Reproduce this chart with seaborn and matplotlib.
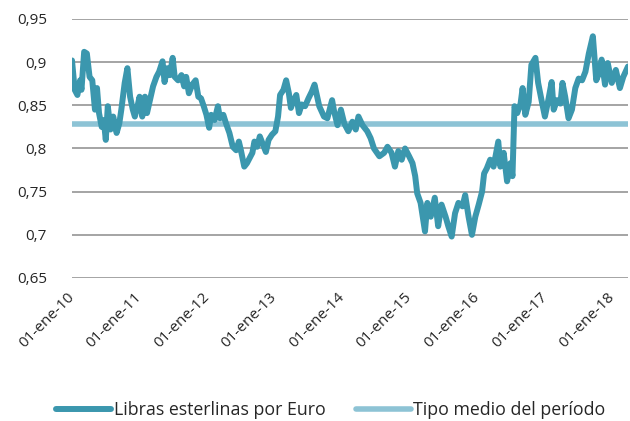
import pandas as pd
import numpy as np
import matplotlib
matplotlib.use("Agg")
import matplotlib.pyplot as plt
import seaborn as sns

# Libras esterlinas por euro (año decimal, tipo)
year_frac = [
    2010.00, 2010.04, 2010.08, 2010.12, 2010.14, 2010.18, 2010.22, 2010.26, 2010.30, 2010.34,
    2010.37, 2010.40, 2010.44, 2010.47, 2010.50, 2010.53, 2010.57, 2010.61, 2010.66, 2010.70,
    2010.73, 2010.78, 2010.82, 2010.86, 2010.90, 2010.93, 2010.97, 2011.00, 2011.04, 2011.08,
    2011.11, 2011.16, 2011.20, 2011.25, 2011.29, 2011.34, 2011.37, 2011.41, 2011.45, 2011.49,
    2011.52, 2011.57, 2011.62, 2011.66, 2011.69, 2011.73, 2011.78, 2011.83, 2011.87, 2011.91,
    2011.95, 2011.99, 2012.03, 2012.06, 2012.11, 2012.16, 2012.19, 2012.24, 2012.28, 2012.33,
    2012.38, 2012.43, 2012.47, 2012.50, 2012.55, 2012.59, 2012.63, 2012.67, 2012.70, 2012.74,
    2012.78, 2012.82, 2012.87, 2012.91, 2012.96, 2013.01, 2013.05, 2013.08, 2013.13, 2013.17,
    2013.21, 2013.24, 2013.28, 2013.32, 2013.36, 2013.40, 2013.45, 2013.50, 2013.55, 2013.59,
    2013.66, 2013.73, 2013.78, 2013.85, 2013.88, 2013.93, 2013.98, 2014.03, 2014.09, 2014.15,
    2014.20, 2014.24, 2014.30, 2014.37, 2014.42, 2014.47, 2014.55, 2014.62, 2014.67, 2014.73,
    2014.78, 2014.83, 2014.88, 2014.93, 2014.99, 2015.04, 2015.08, 2015.11, 2015.16, 2015.225,
    2015.26, 2015.31, 2015.37, 2015.42, 2015.47, 2015.53, 2015.57, 2015.62, 2015.67, 2015.72,
    2015.78, 2015.82, 2015.87, 2015.92, 2015.97, 2016.02, 2016.07, 2016.10, 2016.14, 2016.19,
    2016.24, 2016.31, 2016.34, 2016.39, 2016.44, 2016.49, 2016.52, 2016.55, 2016.59, 2016.64,
    2016.67, 2016.71, 2016.76, 2016.80, 2016.86, 2016.90, 2016.95, 2017.00, 2017.05, 2017.10,
    2017.13, 2017.18, 2017.23, 2017.26, 2017.30, 2017.35, 2017.40, 2017.45, 2017.50, 2017.55,
    2017.60, 2017.65, 2017.71, 2017.76, 2017.80, 2017.84, 2017.89, 2017.93, 2017.99, 2018.05,
    2018.11, 2018.16, 2018.23,
]
gbp_per_eur = [
    0.902, 0.868, 0.862, 0.879, 0.868, 0.912, 0.910, 0.883, 0.879, 0.845,
    0.870, 0.841, 0.825, 0.833, 0.810, 0.849, 0.822, 0.837, 0.818, 0.829,
    0.845, 0.876, 0.893, 0.860, 0.845, 0.837, 0.849, 0.860, 0.837, 0.860,
    0.841, 0.858, 0.872, 0.883, 0.889, 0.901, 0.877, 0.893, 0.885, 0.905,
    0.883, 0.879, 0.885, 0.872, 0.883, 0.864, 0.874, 0.879, 0.860, 0.858,
    0.849, 0.839, 0.824, 0.839, 0.833, 0.849, 0.835, 0.839, 0.829, 0.818,
    0.802, 0.798, 0.808, 0.798, 0.779, 0.783, 0.789, 0.795, 0.808, 0.802,
    0.814, 0.806, 0.796, 0.810, 0.816, 0.820, 0.837, 0.862, 0.868, 0.879,
    0.864, 0.847, 0.856, 0.862, 0.841, 0.851, 0.849, 0.858, 0.866, 0.874,
    0.849, 0.837, 0.835, 0.856, 0.843, 0.827, 0.845, 0.829, 0.820, 0.831,
    0.822, 0.837, 0.827, 0.820, 0.812, 0.800, 0.791, 0.795, 0.802, 0.795,
    0.779, 0.797, 0.787, 0.800, 0.791, 0.783, 0.768, 0.748, 0.737, 0.704,
    0.737, 0.721, 0.743, 0.710, 0.735, 0.721, 0.710, 0.698, 0.725, 0.737,
    0.733, 0.746, 0.721, 0.700, 0.721, 0.735, 0.750, 0.771, 0.777, 0.787,
    0.779, 0.808, 0.779, 0.795, 0.762, 0.783, 0.768, 0.849, 0.841, 0.852,
    0.870, 0.839, 0.854, 0.897, 0.905, 0.876, 0.856, 0.837, 0.856, 0.877,
    0.845, 0.856, 0.852, 0.876, 0.860, 0.835, 0.845, 0.870, 0.881, 0.879,
    0.889, 0.910, 0.930, 0.879, 0.887, 0.903, 0.874, 0.899, 0.876, 0.891,
    0.870, 0.883, 0.895,
]
mean_rate = 0.828
tick_years = [2010, 2011, 2012, 2013, 2014, 2015, 2016, 2017, 2018]
y_ticks = [0.65, 0.70, 0.75, 0.80, 0.85, 0.90, 0.95]

col_main = "#3b97ae"
col_mean = "#8dc3d5"

sns.set_theme(style="white")
plt.rcParams["font.family"] = ["Open Sans", "DejaVu Sans"]

start = pd.Timestamp("2010-01-01")
fechas = start + pd.to_timedelta((np.array(year_frac) - 2010) * 365.25, unit="D")
df = pd.DataFrame({"fecha": fechas, "tipo": gbp_per_eur})
df["medio"] = mean_rate

fig = plt.figure(figsize=(6.3, 4.21), dpi=100)
ax = fig.add_axes([72 / 630, 1 - 278 / 421, 556 / 630, 259 / 421])

sns.lineplot(data=df, x="fecha", y="medio", ax=ax, color=col_mean, linewidth=4.0,
             label="Tipo medio del período", zorder=2,
             solid_capstyle="round")
sns.lineplot(data=df, x="fecha", y="tipo", ax=ax, color=col_main, linewidth=4.3,
             label="Libras esterlinas por Euro", zorder=3,
             solid_joinstyle="round", solid_capstyle="round")

ax.set_ylim(0.65, 0.95)
ax.set_xlim(df["fecha"].iloc[0], df["fecha"].iloc[-1])
ax.set_yticks(y_ticks)
ax.set_yticklabels([f"{v:.2f}".rstrip("0").replace(".", ",") for v in y_ticks], fontsize=11)
ticks = [pd.Timestamp(f"{y}-01-01") for y in tick_years]
ax.set_xticks(ticks)
ax.set_xticklabels([f"01-ene-{y % 100:02d}" for y in tick_years], fontsize=11,
                   rotation=45, ha="right", va="center", rotation_mode="anchor")
ax.tick_params(axis="x", pad=12, length=0)
ax.tick_params(axis="y", pad=18, length=0)
ax.set_xlabel("")
ax.set_ylabel("")
ax.grid(axis="y", color="#8c8c8c", linewidth=1.1)
ax.set_axisbelow(True)
sns.despine(ax=ax, left=True, bottom=True)

h, l = ax.get_legend_handles_labels()
ax.legend(h[::-1], l[::-1], loc="center", bbox_to_anchor=(0.525, 0.026),
          bbox_transform=fig.transFigure, ncol=2, frameon=False, fontsize=12.8,
          handlelength=3.1, handletextpad=0.15, columnspacing=1.7)

fig.savefig("out.png", dpi=100)
